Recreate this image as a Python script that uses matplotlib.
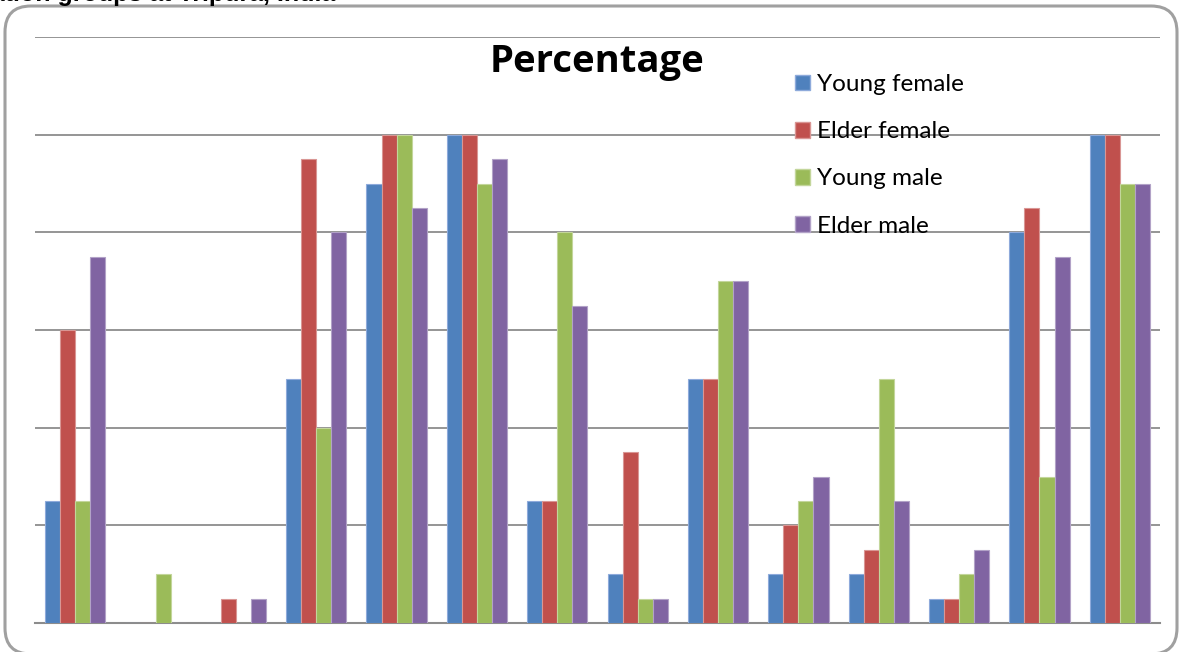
import numpy as np
import matplotlib.pyplot as plt
from matplotlib.patches import FancyBboxPatch, Patch

# percentage per item for each group (14 items)
series = ["Young female", "Elder female", "Young male", "Elder male"]
young_female = [25, 0, 0, 50, 90, 100, 25, 10, 50, 10, 10, 5, 80, 100]
elder_female = [60, 0, 5, 95, 100, 100, 25, 35, 50, 20, 15, 5, 85, 100]
young_male = [25, 10, 0, 40, 100, 90, 80, 5, 70, 25, 50, 10, 30, 90]
elder_male = [75, 0, 5, 80, 85, 95, 65, 5, 70, 30, 25, 15, 75, 90]
colors = ["#4F81BD", "#C0504D", "#9BBB59", "#8064A2"]
edges = ["#8EAADB", "#D99694", "#C3D69B", "#B2A2C7"]

plt.rcParams['font.family'] = ['Lato', 'DejaVu Sans']

W, H = 1179, 652
fig = plt.figure(figsize=(W / 100, H / 100), dpi=100)

# rounded chart frame
frame = FancyBboxPatch((5 / W, -2 / H), 1172 / W, 648 / H,
                       boxstyle="round,pad=0,rounding_size=%f" % (26 / W),
                       mutation_aspect=W / H,
                       transform=fig.transFigure, facecolor="white",
                       edgecolor="#A0A0A0", linewidth=2.2, zorder=-1)
fig.patches.append(frame)

# caption line above the chart, mostly beyond the top edge
fig.text(335 / W, 1 - 1.5 / H, "among various population groups at Tripura, India",
         fontsize=18, fontweight="bold", ha="right", va="baseline",
         family="Liberation Sans")

ax = fig.add_axes([35 / W, 1 - 623 / H, 1125 / W, 586 / H])
ax.set_facecolor("none")

data = [young_female, elder_female, young_male, elder_male]
x = np.arange(len(young_female))
w = 0.1875
for i, vals in enumerate(data):
    ax.bar(x + (i - 1.5) * w, vals, width=w, color=colors[i],
           edgecolor=edges[i], linewidth=0.8, label=series[i], zorder=3)

ax.set_xlim(-0.5, len(x) - 0.5)
ax.set_ylim(0, 120)
ax.set_yticks(np.arange(0, 121, 20))
ax.yaxis.grid(True, color="#8C8C8C", linewidth=1.3, zorder=1)
ax.tick_params(left=False, bottom=False, labelleft=False, labelbottom=False)
for s in ["top", "right", "left"]:
    ax.spines[s].set_visible(False)
ax.spines["bottom"].set_color("#8C8C8C")
ax.spines["bottom"].set_linewidth(1.5)

ax.text(0.4996, 0.99, "Percentage", transform=ax.transAxes, fontsize=27.5,
        fontweight="bold", ha="center", va="top", family="Open Sans")

handles = [Patch(facecolor=colors[i], edgecolor=edges[i]) for i in range(4)]
ax.legend(handles, series, loc="upper left", bbox_to_anchor=(0.667, 0.9535),
          frameon=False, fontsize=17.5, handlelength=0.62, handleheight=0.62,
          handletextpad=0.28, labelspacing=1.08, borderaxespad=0)

fig.savefig("out.png", dpi=100)
